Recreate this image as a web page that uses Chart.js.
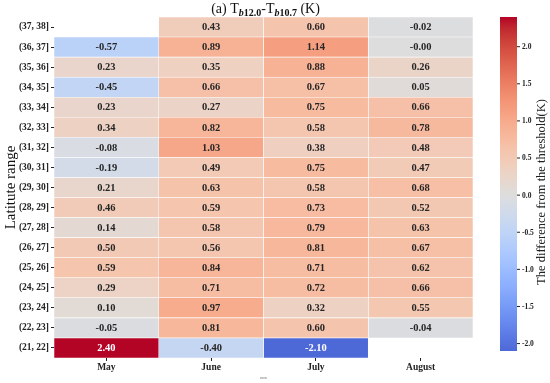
<!DOCTYPE html>
<html><head><meta charset="utf-8">
<script src="https://cdn.jsdelivr.net/npm/chart.js@4"></script>
<style>html,body{margin:0;padding:0;background:#fff}</style>
</head><body>
<canvas id="c" width="550" height="383"></canvas>
<script>
const latitudes = ['(37, 38]','(36, 37]','(35, 36]','(34, 35]','(33, 34]','(32, 33]','(31, 32]','(30, 31]','(29, 30]','(28, 29]','(27, 28]','(26, 27]','(25, 26]','(24, 25]','(23, 24]','(22, 23]','(21, 22]'];
const months = ['May','June','July','August'];
const may    = [null,-0.57,0.23,-0.45,0.23,0.34,-0.08,-0.19,0.21,0.46,0.14,0.50,0.59,0.29,0.10,-0.05,2.40];
const june   = [0.43,0.89,0.35,0.66,0.27,0.82,1.03,0.49,0.63,0.59,0.58,0.56,0.84,0.71,0.97,0.81,-0.40];
const july   = [0.60,1.14,0.88,0.67,0.75,0.58,0.38,0.75,0.58,0.73,0.79,0.81,0.71,0.72,0.32,0.60,-2.10];
const august = [-0.02,-0.00,0.26,0.05,0.66,0.78,0.48,0.47,0.68,0.52,0.63,0.67,0.62,0.66,0.55,-0.04,null];
const colorbarTicks = [2.0,1.5,1.0,0.5,0.0,-0.5,-1.0,-1.5,-2.0];
const vmin = -2.1, vmax = 2.4;
const series = [may, june, july, august];

const CW = [[59,76,192],[68,90,204],[77,104,215],[87,117,225],[98,130,234],[108,142,241],[119,154,247],[130,165,251],[141,176,254],[152,185,255],[163,194,255],[174,201,253],[184,208,249],[194,213,244],[204,217,238],[213,219,230],[221,221,221],[229,216,209],[236,211,197],[241,204,185],[245,196,173],[247,187,160],[247,177,148],[247,166,135],[244,154,123],[241,141,111],[236,127,99],[229,112,88],[222,96,77],[213,80,66],[203,62,56],[192,40,47],[180,4,38]];
function cwRGB(v){
  const half = Math.max(vmax, -vmin);
  let t = (v + half) / (2*half);
  t = Math.min(1, Math.max(0, t));
  const p = t*(CW.length-1), i = Math.min(CW.length-2, Math.floor(p)), f = p - i;
  return CW[i].map((c,k)=>Math.round(c + (CW[i+1][k]-c)*f));
}
function cw(v){ const c = cwRGB(v); return `rgb(${c[0]},${c[1]},${c[2]})`; }
function textColor(v){
  const c = cwRGB(v).map(x=>{x/=255;return x<=0.03928?x/12.92:Math.pow((x+0.055)/1.055,2.4);});
  const L = 0.2126*c[0]+0.7152*c[1]+0.0722*c[2];
  return L > 0.408 ? '#262626' : '#ffffff';
}
function fmt(v){ return (v < 0 || Object.is(v,-0)) ? '-' + Math.abs(v).toFixed(2) : v.toFixed(2); }

const SERIF = "'Liberation Serif','Times New Roman',serif";

const datasets = series.map((vals, m) => ({
  label: months[m],
  data: vals.map(v => v == null ? null : [m, m+1]),
  backgroundColor: vals.map(v => v == null ? 'rgba(0,0,0,0)' : cw(v)),
  borderColor: '#ffffff',
  borderWidth: 0.6,
  borderSkipped: false,
  barPercentage: 1,
  categoryPercentage: 1,
  grouped: false
}));

const annotPlugin = {
  id: 'annot',
  afterDatasetsDraw(chart){
    const ctx = chart.ctx, xs = chart.scales.x, ys = chart.scales.y;
    ctx.save();
    ctx.font = `bold 10.5px ${SERIF}`;
    ctx.textAlign = 'center'; ctx.textBaseline = 'middle';
    series.forEach((vals, m) => vals.forEach((v, i) => {
      if (v == null) return;
      ctx.fillStyle = textColor(v);
      ctx.fillText(fmt(v), xs.getPixelForValue(m + 0.5), ys.getPixelForValue(i) + 0.5);
    }));
    ctx.restore();
  }
};

const decorPlugin = {
  id: 'decor',
  afterDraw(chart){
    const ctx = chart.ctx;
    ctx.save();
    const parts = [
      {t:'(a) T', f:`14px ${SERIF}`, dy:0},
      {t:'b', f:`italic bold 10px ${SERIF}`, dy:3},
      {t:'12.0', f:`bold 10px ${SERIF}`, dy:3},
      {t:'-T', f:`14px ${SERIF}`, dy:0},
      {t:'b', f:`italic bold 10px ${SERIF}`, dy:3},
      {t:'10.7', f:`bold 10px ${SERIF}`, dy:3},
      {t:' (K)', f:`14px ${SERIF}`, dy:0}
    ];
    let total = 0;
    parts.forEach(p => { ctx.font = p.f; p.w = ctx.measureText(p.t).width; total += p.w; });
    const cx = (chart.chartArea.left + chart.chartArea.right) / 2 + 2;
    let x = cx - total/2;
    const base = 13;
    ctx.fillStyle = '#111'; ctx.textBaseline = 'alphabetic'; ctx.textAlign = 'left';
    parts.forEach(p => { ctx.font = p.f; ctx.fillText(p.t, x, base + p.dy); x += p.w; });

    const cbL = 500, cbR = 517, cbT = 17, cbB = 351;
    const yOf = v => cbT + (vmax - v) / (vmax - vmin) * (cbB - cbT);
    const g = ctx.createLinearGradient(0, cbT, 0, cbB);
    for (let k = 0; k <= 60; k++) {
      const v = vmax - (vmax - vmin) * k / 60;
      g.addColorStop(k/60, cw(v));
    }
    ctx.fillStyle = g;
    ctx.fillRect(cbL, cbT, cbR - cbL, cbB - cbT);
    ctx.strokeStyle = '#222'; ctx.lineWidth = 1;
    ctx.font = `bold 7.5px ${SERIF}`;
    ctx.fillStyle = '#222'; ctx.textAlign = 'left'; ctx.textBaseline = 'middle';
    colorbarTicks.forEach(v => {
      const y = yOf(v);
      ctx.beginPath(); ctx.moveTo(cbR, y); ctx.lineTo(cbR + 3, y); ctx.stroke();
      ctx.fillText(v < 0 ? '-' + Math.abs(v).toFixed(1) : v.toFixed(1), cbR + 5, y + 0.5);
    });
    ctx.save();
    ctx.translate(542, (cbT + cbB) / 2 + 8);
    ctx.rotate(-Math.PI/2);
    ctx.font = `12.5px ${SERIF}`;
    ctx.textAlign = 'center'; ctx.textBaseline = 'middle';
    ctx.fillStyle = '#222';
    ctx.fillText('The difference from the threshold(K)', 0, 0);
    ctx.restore();
    ctx.restore();
  }
};

new Chart(document.getElementById('c'), {
  type: 'bar',
  data: { labels: latitudes, datasets },
  options: {
    indexAxis: 'y',
    responsive: false,
    devicePixelRatio: 1,
    animation: false,
    layout: { padding: { top: 17, right: 77, left: 0, bottom: 0 } },
    plugins: { legend: { display: false }, tooltip: { enabled: false } },
    scales: {
      x: {
        type: 'linear', min: 0, max: 4,
        afterBuildTicks: s => { s.ticks = months.map((_, i) => ({ value: i + 0.5 })); },
        afterFit: s => { s.height = 25; },
        ticks: { autoSkip: false, maxRotation: 0, padding: 1, color: '#222',
                 font: { family: SERIF, weight: 'bold', size: 9.5 },
                 callback: (v) => months[Math.round(v - 0.5)] },
        grid: { drawOnChartArea: false, drawTicks: true, tickLength: 3, color: '#222', lineWidth: 1 },
        border: { display: false },
        title: { display: true, text: 'mon', color: '#777', font: { family: SERIF, size: 4 }, padding: { top: 0, bottom: 3 } }
      },
      y: {
        type: 'category',
        afterFit: s => { s.width = 54; },
        ticks: { autoSkip: false, padding: 2, color: '#222',
                 font: { family: SERIF, weight: 'bold', size: 9.5 } },
        grid: { offset: false, drawOnChartArea: false, drawTicks: true, tickLength: 3, color: '#222', lineWidth: 1 },
        border: { display: false },
        title: { display: true, text: 'Latitute range', color: '#111', font: { family: SERIF, size: 15 }, padding: { top: 2, bottom: 0 } }
      }
    }
  },
  plugins: [annotPlugin, decorPlugin]
});
</script>
</body></html>
